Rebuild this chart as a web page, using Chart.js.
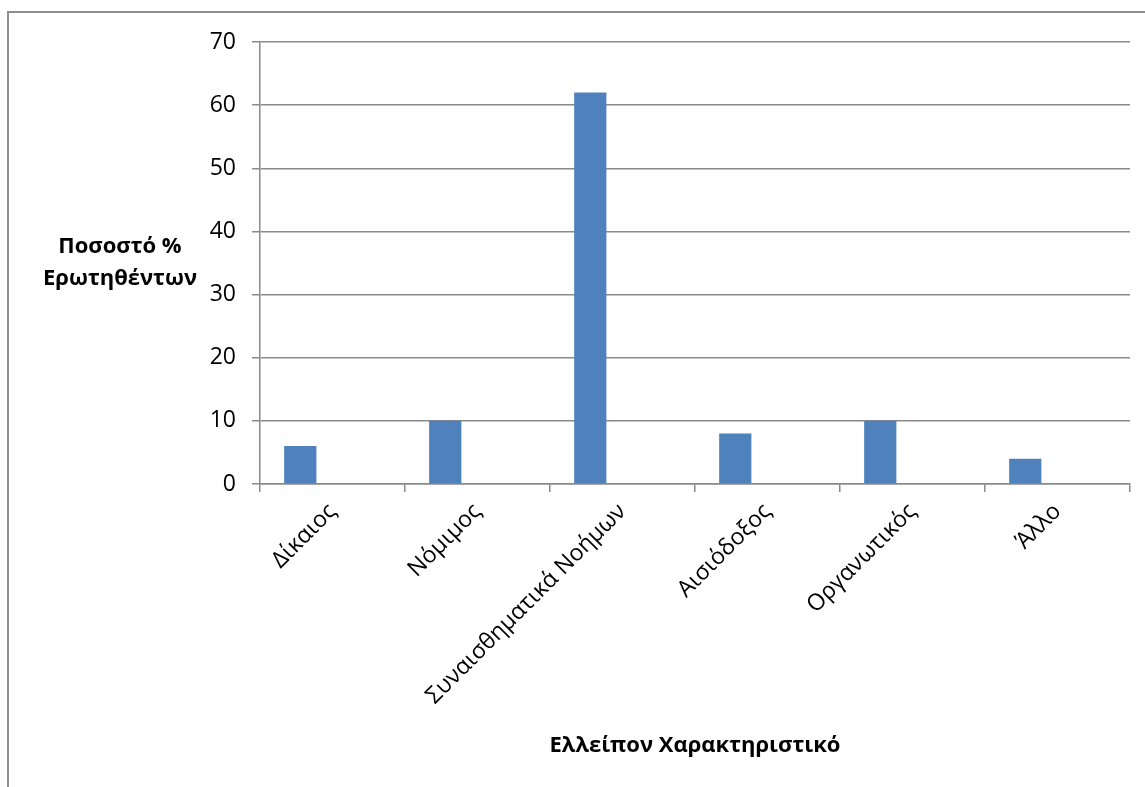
<!DOCTYPE html>
<html lang="el">
<head>
    <meta charset="UTF-8" />
    <title>Ελλείπον Χαρακτηριστικό</title>
    <script src="https://cdn.jsdelivr.net/npm/chart.js"></script>
    <style>
        html, body {
            margin: 0;
            padding: 0;
            background: #fff;
            overflow: hidden;
        }
        .frame {
            position: absolute;
            left: 7px;
            top: 11px;
            width: 2000px;
            height: 2000px;
            border: 2px solid #8e8e8e;
        }
        #chart {
            position: absolute;
            left: 0;
            top: 0;
        }
    </style>
</head>
<body>
    <div class="frame"></div>
    <canvas id="chart" width="1145" height="787"></canvas>

    <script>
        // chart data
        var categories = ['Δίκαιος', 'Νόμιμος', 'Συναισθηματικά Νοήμων', 'Αισιόδοξος', 'Οργανωτικός', 'Άλλο'];
        var percentValues = [6, 10, 62, 8, 10, 4];
        // two more (empty) series in the source sheet, they only take up slots
        var emptySeriesA = [null, null, null, null, null, null];
        var emptySeriesB = [null, null, null, null, null, null];
        var yTicks = [0, 10, 20, 30, 40, 50, 60, 70];
        var yTitleLines = ['Ποσοστό %', 'Ερωτηθέντων'];
        var xTitle = 'Ελλείπον Χαρακτηριστικό';

        var FONT = '"Open Sans", "Noto Sans", sans-serif';
        var GRID = '#8a8a8a';

        // y axis title is horizontal in the original, so draw it by hand
        var yTitlePlugin = {
            id: 'yTitle',
            afterDraw: function (chart) {
                var ctx = chart.ctx;
                var area = chart.chartArea;
                var cy = (area.top + area.bottom) / 2;
                ctx.save();
                ctx.font = 'bold 22px ' + FONT;
                ctx.fillStyle = '#000';
                ctx.textAlign = 'center';
                ctx.textBaseline = 'middle';
                for (var i = 0; i < yTitleLines.length; i++) {
                    ctx.fillText(yTitleLines[i], 120, cy + (i - 0.5) * 32);
                }
                ctx.restore();
            }
        };

        var ctx = document.getElementById('chart').getContext('2d');
        var myChart = new Chart(ctx, {
            type: 'bar',
            data: {
                labels: categories,
                datasets: [
                    { label: 'Ποσοστό', data: percentValues, backgroundColor: '#4f81bd' },
                    { label: 'a', data: emptySeriesA, backgroundColor: '#c0504d' },
                    { label: 'b', data: emptySeriesB, backgroundColor: '#9bbb59' }
                ]
            },
            options: {
                responsive: false,
                animation: false,
                categoryPercentage: 0.6667,
                barPercentage: 1,
                layout: {
                    padding: { left: 0, right: 15, top: 42, bottom: 0 }
                },
                plugins: {
                    legend: { display: false },
                    tooltip: { enabled: false }
                },
                scales: {
                    x: {
                        grid: {
                            display: true,
                            drawOnChartArea: false,
                            drawTicks: true,
                            tickLength: 8,
                            color: GRID,
                            lineWidth: 1.5
                        },
                        border: { color: GRID, width: 1.5 },
                        ticks: {
                            color: '#000',
                            font: { family: FONT, size: 23 },
                            minRotation: 45,
                            maxRotation: 45,
                            autoSkip: false,
                            padding: 6
                        },
                        title: {
                            display: true,
                            text: xTitle,
                            color: '#000',
                            font: { family: FONT, size: 22, weight: 'bold' },
                            padding: { top: 0, bottom: 28 }
                        },
                        afterFit: function (scale) {
                            scale.height = 303;
                        }
                    },
                    y: {
                        min: 0,
                        max: 70,
                        afterBuildTicks: function (scale) {
                            scale.ticks = yTicks.map(function (v) { return { value: v }; });
                        },
                        grid: {
                            color: GRID,
                            lineWidth: 1.5,
                            drawTicks: true,
                            tickLength: 8,
                            tickColor: GRID
                        },
                        border: { color: GRID, width: 1.5 },
                        ticks: {
                            color: '#000',
                            font: { family: FONT, size: 23 },
                            padding: 16
                        },
                        afterFit: function (scale) {
                            scale.width = 260;
                        }
                    }
                }
            },
            plugins: [yTitlePlugin]
        });
    </script>
</body>
</html>
